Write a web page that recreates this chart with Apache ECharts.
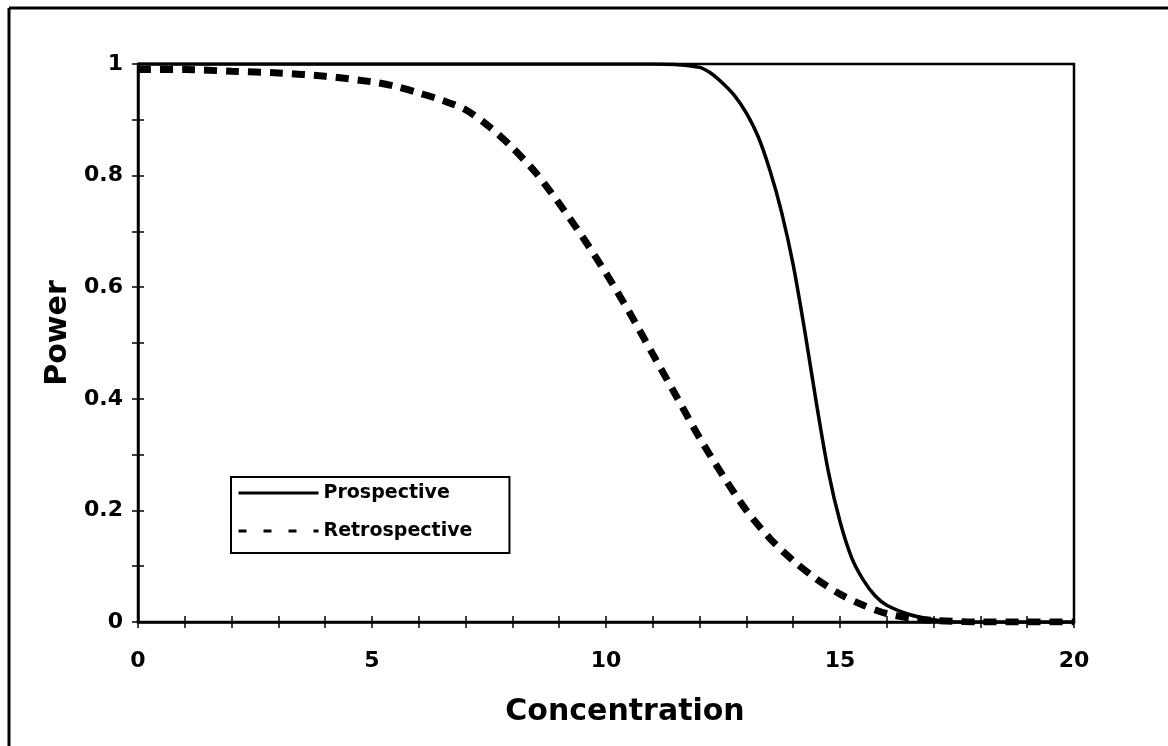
<!DOCTYPE html>
<html>
<head>
<meta charset="utf-8">
<script src="https://cdn.jsdelivr.net/npm/echarts@6/dist/echarts.min.js"></script>
<style>
html,body{margin:0;padding:0;background:#fff;}
#c{width:1168px;height:746px;}
</style>
</head>
<body>
<div id="c"></div>
<script>
// ---- data ----
const prospectiveX = [0, 2, 4, 6, 8, 10, 11, 11.5, 12, 12.25, 12.5, 12.75, 13, 13.25, 13.5, 13.75, 14, 14.25, 14.5, 14.75, 15, 15.25, 15.5, 15.75, 16, 16.5, 17, 17.5, 18, 19, 20];
const prospectiveY = [1, 1, 1, 1, 1, 1, 1, 0.999, 0.994, 0.983, 0.965, 0.943, 0.912, 0.87, 0.81, 0.735, 0.64, 0.52, 0.39, 0.27, 0.18, 0.115, 0.075, 0.047, 0.03, 0.013, 0.004, 0, 0, 0, 0];
const retroX = [0, 1, 2, 3, 4, 5, 5.5, 6, 6.5, 7, 7.5, 8, 8.5, 9, 9.5, 10, 10.5, 11, 11.5, 12, 12.5, 13, 13.5, 14, 14.5, 15, 15.5, 16, 16.5, 17, 18, 19, 20];
const retroY = [0.99, 0.99, 0.987, 0.984, 0.978, 0.968, 0.96, 0.948, 0.935, 0.918, 0.888, 0.85, 0.805, 0.75, 0.69, 0.625, 0.555, 0.48, 0.405, 0.33, 0.262, 0.2, 0.15, 0.11, 0.077, 0.05, 0.03, 0.015, 0.007, 0.003, 0, 0, 0];
const seriesNames = ['Prospective', 'Retrospective'];
const xTitle = 'Concentration';
const yTitle = 'Power';

const zip = (xs, ys) => xs.map((x, i) => [x, ys[i]]);
const FONT = 'DejaVu Sans';

const chart = echarts.init(document.getElementById('c'), null, {renderer: 'canvas'});

const xLabelFmt = v => (Math.round(v) % 5 === 0 ? String(Math.round(v)) : '');
const yLabelFmt = v => {
  const t = Math.round(v * 10);
  return t % 2 === 0 ? String(t / 10) : '';
};

const baseX = {
  type: 'value', min: 0, max: 20, interval: 1, position: 'bottom',
  splitLine: {show: false}
};
const baseY = {
  type: 'value', min: 0, max: 1, interval: 0.1, position: 'left',
  splitLine: {show: false}
};
const gridBox = {left: 138, right: 94, top: 64, bottom: 124};

const option = {
  animation: false,
  backgroundColor: '#fff',
  textStyle: {fontFamily: FONT},
  grid: [
    Object.assign({show: true, borderColor: '#000', borderWidth: 2.5}, gridBox),
    Object.assign({show: false}, gridBox)
  ],
  xAxis: [
    Object.assign({}, baseX, {
      gridIndex: 0,
      axisLine: {show: true, onZero: false, lineStyle: {color: '#000', width: 2.5}},
      axisTick: {show: true, length: 6, lineStyle: {color: '#000', width: 1.5}},
      axisLabel: {formatter: xLabelFmt, fontSize: 22, fontWeight: 'bold', color: '#000', margin: 28, fontFamily: FONT},
      name: xTitle, nameLocation: 'middle', nameGap: 75,
      nameTextStyle: {fontSize: 30, fontWeight: 'bold', color: '#000', padding: [0, 0, 0, 38], fontFamily: FONT}
    }),
    Object.assign({}, baseX, {
      gridIndex: 1, offset: -6,
      axisLine: {show: true, onZero: false, lineStyle: {color: 'rgba(0,0,0,0)', width: 0}},
      axisTick: {show: true, length: 12, lineStyle: {color: '#000', width: 1.5}},
      axisLabel: {show: false}
    })
  ],
  yAxis: [
    Object.assign({}, baseY, {
      gridIndex: 0,
      axisLine: {show: true, onZero: false, lineStyle: {color: '#000', width: 2.5}},
      axisTick: {show: true, length: 6, lineStyle: {color: '#000', width: 1.5}},
      axisLabel: {formatter: yLabelFmt, fontSize: 22, fontWeight: 'bold', color: '#000', margin: 15, fontFamily: FONT},
      name: yTitle, nameLocation: 'middle', nameGap: 65, nameRotate: 90,
      nameTextStyle: {fontSize: 30, fontWeight: 'bold', color: '#000', padding: [0, 0, 0, 20], fontFamily: FONT}
    }),
    Object.assign({}, baseY, {
      gridIndex: 1, offset: -6,
      axisLine: {show: true, onZero: false, lineStyle: {color: 'rgba(0,0,0,0)', width: 0}},
      axisTick: {show: true, length: 12, lineStyle: {color: '#000', width: 1.5}},
      axisLabel: {show: false}
    })
  ],
  legend: {
    left: 231, top: 477, orient: 'vertical',
    itemWidth: 80, itemHeight: 14, itemGap: 18,
    padding: [6, 37, 12, 6],
    borderColor: '#000', borderWidth: 2, backgroundColor: '#fff',
    textStyle: {fontSize: 19, fontWeight: 'bold', color: '#000', lineHeight: 20, fontFamily: FONT},
    data: [
      {name: seriesNames[0], itemStyle: {opacity: 0}, lineStyle: {color: '#000', width: 3, type: 'solid'}},
      {name: seriesNames[1], itemStyle: {opacity: 0}, lineStyle: {color: '#000', width: 3, type: [8, 17]}}
    ]
  },
  graphic: [
    {type: 'line', shape: {x1: 9, y1: 8, x2: 9, y2: 746}, style: {stroke: '#000', lineWidth: 3}},
    {type: 'line', shape: {x1: 9, y1: 8, x2: 1168, y2: 8}, style: {stroke: '#000', lineWidth: 3}}
  ],
  series: [
    {
      name: seriesNames[0], type: 'line', xAxisIndex: 0, yAxisIndex: 0,
      data: zip(prospectiveX, prospectiveY),
      symbol: 'none', smooth: 0.3,
      lineStyle: {color: '#000', width: 3.5, type: 'solid'},
      itemStyle: {color: '#000'}
    },
    {
      name: seriesNames[1], type: 'line', xAxisIndex: 1, yAxisIndex: 1,
      data: zip(retroX, retroY),
      symbol: 'none', smooth: 0.3,
      lineStyle: {color: '#000', width: 7, type: [13, 9], cap: 'butt'},
      itemStyle: {color: '#000'}
    }
  ]
};
chart.setOption(option);
</script>
</body>
</html>
